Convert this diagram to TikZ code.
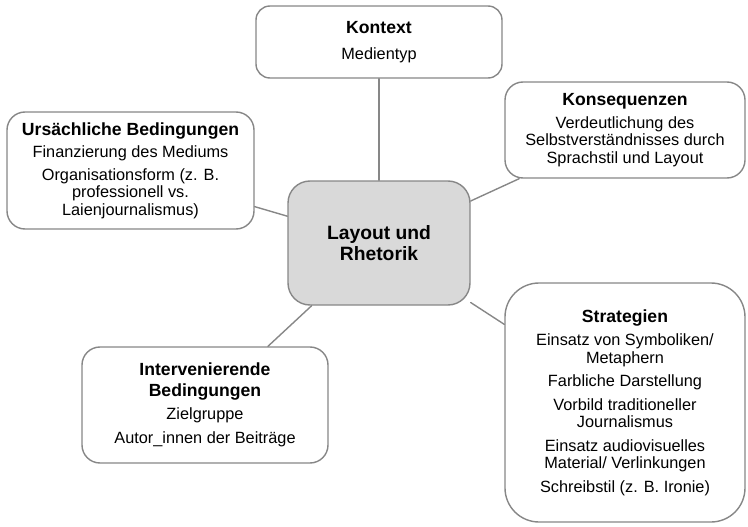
\documentclass[tikz,border=0pt]{standalone}
\usepackage{fontspec}
\setmainfont{Liberation Sans}
\definecolor{rahmen}{RGB}{135,135,135}
\definecolor{kernfill}{RGB}{217,217,217}
\newcommand{\titel}[1]{{\fontsize{17.6}{19}\selectfont\bfseries #1}}
\begin{document}
\begin{tikzpicture}[x=1pt,y=-1pt, line join=round, line cap=round,
	box/.style={draw=rahmen, line width=1.4pt, fill=white, rounded corners=#1, align=center, inner sep=0pt, font=\fontsize{16.3}{17.5}\selectfont},
	box/.default=18pt,
	kern/.style={box=22pt, fill=kernfill, font=\fontsize{19.3}{21}\selectfont\bfseries},
	verb/.style={draw=rahmen, line width=1.4pt}]
	\useasboundingbox (0,0) rectangle (748,527);
	% Mitte
	\node[kern, minimum width=182pt, minimum height=124pt] (layout) at (379,243) {Layout und\\ Rhetorik};
	% Felder rundherum
	\node[box=14pt, minimum width=246pt, minimum height=72pt] (kontext) at (379,42)
		{\titel{Kontext}\\[9pt] Medientyp};
	\node[box, minimum width=247pt, minimum height=117pt] (ursache) at (130.5,170.5)
		{\titel{Ursächliche Bedingungen}\\[5pt] Finanzierung des Mediums\\[5pt] Organisationsform (z. B.\\ professionell vs.\\ Laienjournalismus)};
	\node[box, minimum width=240pt, minimum height=96pt] (folgen) at (625,130)
		{\titel{Konsequenzen}\\[5pt] Verdeutlichung des\\ Selbstverständnisses durch\\ Sprachstil und Layout};
	\node[box=34pt, minimum width=240pt, minimum height=239pt] (strategie) at (625,402.5)
		{\titel{Strategien}\\[6pt] Einsatz von Symboliken/\\ Metaphern\\[6pt] Farbliche Darstellung\\[6pt] Vorbild traditioneller\\ Journalismus\\[6pt] Einsatz audiovisuelles\\ Material/ Verlinkungen\\[6pt] Schreibstil (z. B. Ironie)};
	\node[box, minimum width=246pt, minimum height=116pt] (interv) at (205,405)
		{\titel{Intervenierende}\\[3pt] \titel{Bedingungen}\\[6pt] Zielgruppe\\[6pt] Autor\_innen der Beiträge};
	% Verbindungen
	\draw[verb] (layout) -- (kontext);
	\draw[verb] (layout) -- (ursache);
	\draw[verb] (layout) -- (folgen);
	\draw[verb] (layout) -- (strategie);
	\draw[verb] (layout) -- (interv);
\end{tikzpicture}
\end{document}
